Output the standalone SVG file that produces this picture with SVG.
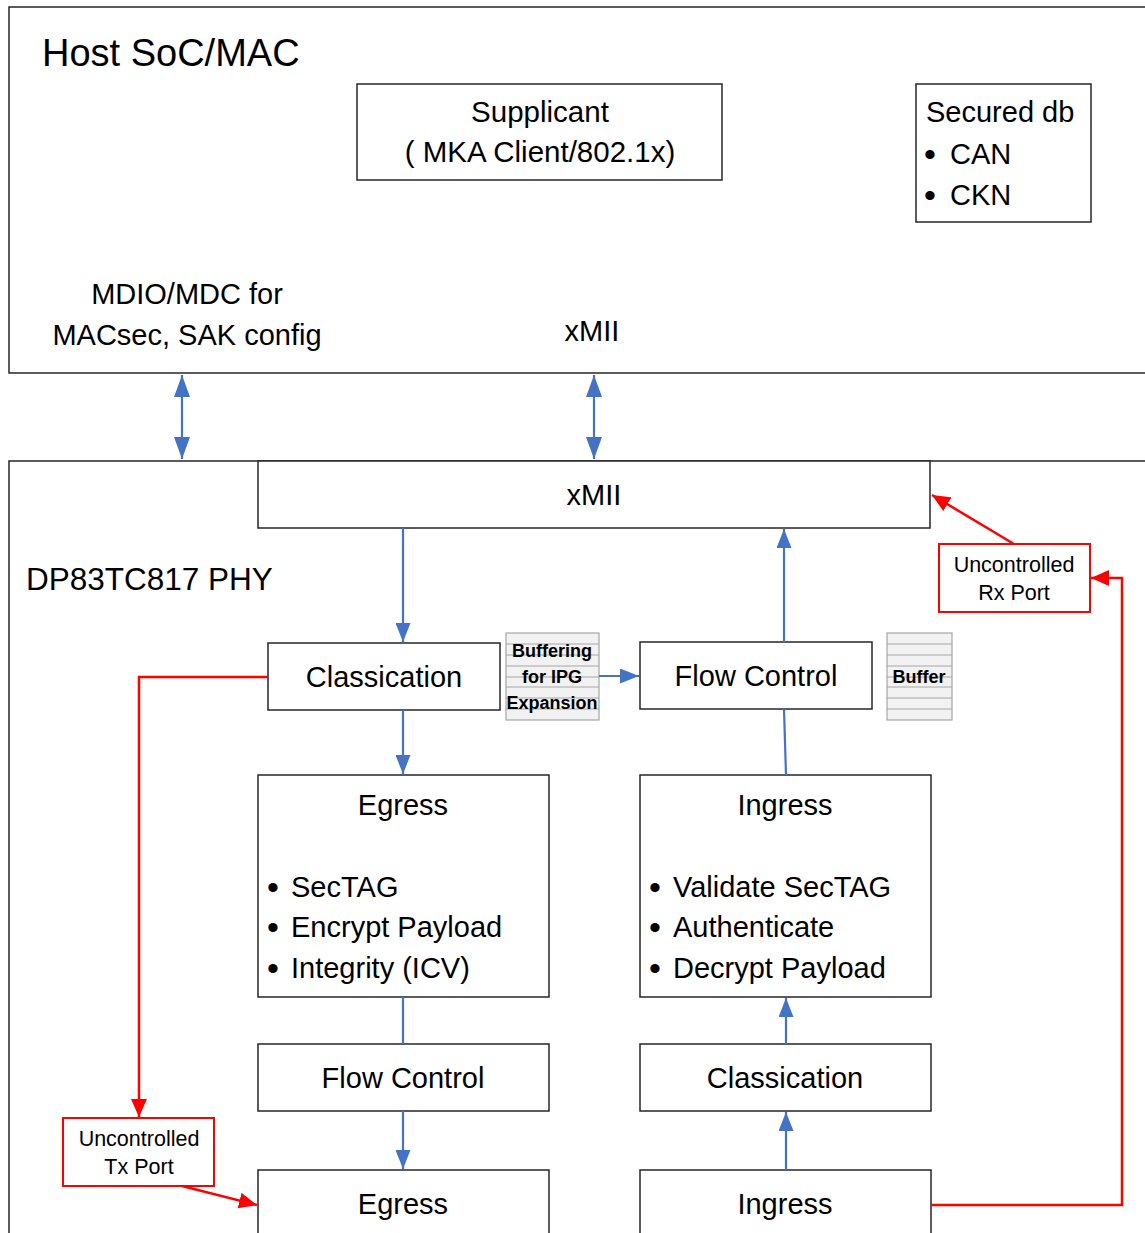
<svg xmlns="http://www.w3.org/2000/svg" width="1145" height="1233" viewBox="0 0 1145 1233">
<style>
  .box { fill: #ffffff; stroke: #262626; stroke-width: 1.5; }
  .red { fill: #ffffff; stroke: #ff0000; stroke-width: 2; }
  .t { font-family: "Liberation Sans", Arial, sans-serif; fill: #000000; }
  .c { text-anchor: middle; }
  .b { font-weight: bold; font-size: 18px; }
  .bu { font-size: 34px; }
  .buf { fill: #f2f2f2; stroke: #a6a6a6; stroke-width: 1.2; }
  .bl { stroke: #a6a6a6; stroke-width: 1.2; }
  .blue { fill: none; stroke: #4472c4; stroke-width: 2.2; }
  .rl { fill: none; stroke: #ff0000; stroke-width: 2.5; }
</style>
<defs>
  <marker id="bigB" viewBox="0 0 22 16" refX="22" refY="8" markerWidth="22" markerHeight="16" markerUnits="userSpaceOnUse" orient="auto-start-reverse">
    <path d="M0,0 L22,8 L0,16 z" fill="#4472c4"/>
  </marker>
  <marker id="ab" viewBox="0 0 19 15" refX="19" refY="7.5" markerWidth="19" markerHeight="15" markerUnits="userSpaceOnUse" orient="auto">
    <path d="M0,0 L19,7.5 L0,15 z" fill="#4472c4"/>
  </marker>
  <marker id="ar" viewBox="0 0 18 16" refX="18" refY="8" markerWidth="18" markerHeight="16" markerUnits="userSpaceOnUse" orient="auto">
    <path d="M0,0 L18,8 L0,16 z" fill="#ff0000"/>
  </marker>
</defs>

<g id="host">
  <rect x="9" y="7" width="1146" height="366" class="box"/>
  <text x="42" y="66" class="t" font-size="38">Host SoC/MAC</text>
  <text x="187" y="304" class="t c" font-size="29">MDIO/MDC for</text>
  <text x="187" y="345" class="t c" font-size="29">MACsec, SAK config</text>
  <text x="592" y="341" class="t c" font-size="29">xMII</text>
</g>

<g id="supplicant">
  <rect x="357" y="84" width="365" height="96" class="box"/>
  <text x="540" y="122" class="t c" font-size="29.5">Supplicant</text>
  <text x="540" y="162" class="t c" font-size="29.5">( MKA Client/802.1x)</text>
</g>

<g id="secured-db">
  <rect x="916" y="84" width="175" height="138" class="box"/>
  <text x="926" y="122" class="t" font-size="29">Secured db</text>
  <text x="924" y="164" class="t" font-size="29"><tspan class="bu" dy="2">•</tspan><tspan x="950" dy="-2">CAN</tspan></text>
  <text x="924" y="205" class="t" font-size="29"><tspan class="bu" dy="2">•</tspan><tspan x="950" dy="-2">CKN</tspan></text>
</g>

<g id="phy">
  <rect x="9" y="461" width="1146" height="790" class="box"/>
  <text x="26" y="590" class="t" font-size="31.5">DP83TC817 PHY</text>
</g>

<g id="xmii">
  <rect x="258" y="461" width="672" height="67" class="box"/>
  <text x="594" y="505" class="t c" font-size="29">xMII</text>
</g>

<g id="classification-tx">
  <rect x="268" y="643" width="232" height="67" class="box"/>
  <text x="384" y="687" class="t c" font-size="29">Classication</text>
</g>

<g id="buffering">
  <rect x="506" y="633" width="93" height="87" class="buf"/>
  <line x1="506" y1="644" x2="599" y2="644" class="bl"/>
  <line x1="506" y1="655" x2="599" y2="655" class="bl"/>
  <line x1="506" y1="666" x2="599" y2="666" class="bl"/>
  <line x1="506" y1="677" x2="599" y2="677" class="bl"/>
  <line x1="506" y1="687" x2="599" y2="687" class="bl"/>
  <line x1="506" y1="698" x2="599" y2="698" class="bl"/>
  <line x1="506" y1="709" x2="599" y2="709" class="bl"/>
  <text x="552" y="657" class="t c b">Buffering</text>
  <text x="552" y="683" class="t c b">for IPG</text>
  <text x="552" y="709" class="t c b">Expansion</text>
</g>

<g id="flow-control-rx">
  <rect x="640" y="642" width="232" height="67" class="box"/>
  <text x="756" y="686" class="t c" font-size="29">Flow Control</text>
</g>

<g id="buffer">
  <rect x="887" y="633" width="65" height="87" class="buf"/>
  <line x1="887" y1="644" x2="952" y2="644" class="bl"/>
  <line x1="887" y1="655" x2="952" y2="655" class="bl"/>
  <line x1="887" y1="666" x2="952" y2="666" class="bl"/>
  <line x1="887" y1="677" x2="952" y2="677" class="bl"/>
  <line x1="887" y1="687" x2="952" y2="687" class="bl"/>
  <line x1="887" y1="698" x2="952" y2="698" class="bl"/>
  <line x1="887" y1="709" x2="952" y2="709" class="bl"/>
  <text x="919" y="683" class="t c b">Buffer</text>
</g>

<g id="egress">
  <rect x="258" y="775" width="291" height="222" class="box"/>
  <text x="403" y="815" class="t c" font-size="29">Egress</text>
  <text x="267" y="897" class="t" font-size="29"><tspan class="bu" dy="2">•</tspan><tspan x="291" dy="-2">SecTAG</tspan></text>
  <text x="267" y="937" class="t" font-size="29"><tspan class="bu" dy="2">•</tspan><tspan x="291" dy="-2">Encrypt Payload</tspan></text>
  <text x="267" y="978" class="t" font-size="29"><tspan class="bu" dy="2">•</tspan><tspan x="291" dy="-2">Integrity (ICV)</tspan></text>
</g>

<g id="ingress">
  <rect x="640" y="775" width="291" height="222" class="box"/>
  <text x="785" y="815" class="t c" font-size="29">Ingress</text>
  <text x="649" y="897" class="t" font-size="29"><tspan class="bu" dy="2">•</tspan><tspan x="673" dy="-2">Validate SecTAG</tspan></text>
  <text x="649" y="937" class="t" font-size="29"><tspan class="bu" dy="2">•</tspan><tspan x="673" dy="-2">Authenticate</tspan></text>
  <text x="649" y="978" class="t" font-size="29"><tspan class="bu" dy="2">•</tspan><tspan x="673" dy="-2">Decrypt Payload</tspan></text>
</g>

<g id="flow-control-tx">
  <rect x="258" y="1044" width="291" height="67" class="box"/>
  <text x="403" y="1088" class="t c" font-size="29">Flow Control</text>
</g>

<g id="classification-rx">
  <rect x="640" y="1044" width="291" height="67" class="box"/>
  <text x="785" y="1088" class="t c" font-size="29">Classication</text>
</g>

<g id="egress-port">
  <rect x="258" y="1170" width="291" height="80" class="box"/>
  <text x="403" y="1214" class="t c" font-size="29">Egress</text>
</g>

<g id="ingress-port">
  <rect x="640" y="1170" width="291" height="80" class="box"/>
  <text x="785" y="1214" class="t c" font-size="29">Ingress</text>
</g>

<g id="uncontrolled-rx">
  <rect x="939" y="544" width="151" height="68" class="red"/>
  <text x="1014" y="572" class="t c" font-size="21.5">Uncontrolled</text>
  <text x="1014" y="600" class="t c" font-size="21.5">Rx Port</text>
</g>

<g id="uncontrolled-tx">
  <rect x="63" y="1118" width="151" height="68" class="red"/>
  <text x="139" y="1146" class="t c" font-size="21.5">Uncontrolled</text>
  <text x="139" y="1174" class="t c" font-size="21.5">Tx Port</text>
</g>

<g id="connectors">
  <line x1="182" y1="375" x2="182" y2="459" class="blue" marker-start="url(#bigB)" marker-end="url(#bigB)"/>
  <line x1="594" y1="375" x2="594" y2="459" class="blue" marker-start="url(#bigB)" marker-end="url(#bigB)"/>
  <line x1="403" y1="528" x2="403" y2="642" class="blue" marker-end="url(#ab)"/>
  <line x1="784" y1="642" x2="784" y2="529" class="blue" marker-end="url(#ab)"/>
  <line x1="599" y1="676" x2="639" y2="676" class="blue" marker-end="url(#ab)"/>
  <line x1="403" y1="710" x2="403" y2="774" class="blue" marker-end="url(#ab)"/>
  <line x1="784" y1="709" x2="786" y2="775" class="blue"/>
  <line x1="403" y1="997" x2="403" y2="1044" class="blue"/>
  <line x1="403" y1="1111" x2="403" y2="1169" class="blue" marker-end="url(#ab)"/>
  <line x1="786" y1="1044" x2="786" y2="998" class="blue" marker-end="url(#ab)"/>
  <line x1="786" y1="1170" x2="786" y2="1112" class="blue" marker-end="url(#ab)"/>
  <polyline points="268,677 139,677 139,1117" class="rl" marker-end="url(#ar)"/>
  <line x1="182" y1="1186" x2="257" y2="1205" class="rl" marker-end="url(#ar)"/>
  <polyline points="931,1205 1122,1205 1122,578 1091,578" class="rl" marker-end="url(#ar)"/>
  <line x1="1014" y1="544" x2="932" y2="495" class="rl" marker-end="url(#ar)"/>
</g>
</svg>
